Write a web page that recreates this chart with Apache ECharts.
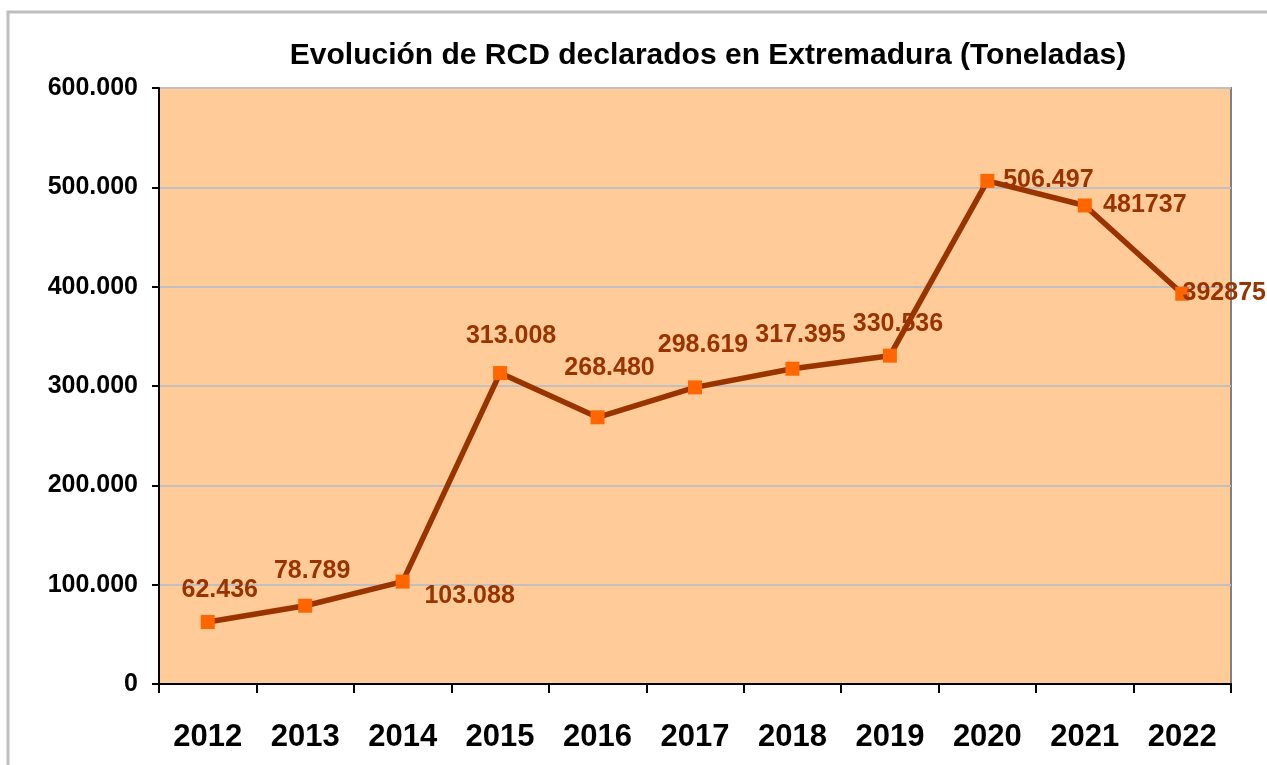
<!DOCTYPE html>
<html><head><meta charset="utf-8">
<script src="https://cdn.jsdelivr.net/npm/echarts@6/dist/echarts.min.js"></script>
<style>html,body{margin:0;padding:0;background:#fff}#c{width:1267px;height:765px}</style>
</head><body><div id="c"></div>
<script>
const categories = ['2012','2013','2014','2015','2016','2017','2018','2019','2020','2021','2022'];
const values = [62436, 78789, 103088, 313008, 268480, 298619, 317395, 330536, 506497, 481737, 392875];
const valueLabels = ['62.436','78.789','103.088','313.008','268.480','298.619','317.395','330.536','506.497','481737','392875'];
const labelOffsets = [[12,-32],[7,-35],[67,15],[11,-37],[12,-49],[8,-42],[8,-34],[8,-32],[61,-1],[60,0],[42,-1]];

const FONT = 'Liberation Sans, Arial, sans-serif';
const chart = echarts.init(document.getElementById('c'));
function fmt(v){ return v === 0 ? '0' : String(v).replace(/\B(?=(\d{3})+(?!\d))/g, '.'); }

chart.setOption({
  animation: false,
  title: {
    text: 'Evolución de RCD declarados en Extremadura (Toneladas)',
    left: 703, top: 36, textAlign: 'center',
    textStyle: { fontFamily: FONT, fontWeight: 'bold', fontSize: 30, color: '#000' }
  },
  graphic: [
    { type: 'rect', shape: { x: 8, y: 12, width: 1300, height: 800 },
      style: { fill: 'none', stroke: '#BEBEBE', lineWidth: 3 }, silent: true, z: -10 }
  ],
  grid: { left: 159, right: 36, top: 88, bottom: 81, show: true,
          backgroundColor: '#FFCC99', borderColor: '#808080', borderWidth: 2 },
  xAxis: {
    type: 'category', data: categories, boundaryGap: true,
    axisLine: { lineStyle: { color: '#000', width: 2 } },
    axisTick: { show: true, length: 9, lineStyle: { color: '#000', width: 2 }, alignWithLabel: false },
    axisLabel: { margin: 38, fontFamily: FONT, fontWeight: 'bold', fontSize: 31, color: '#000' },
    splitLine: { show: false }
  },
  yAxis: {
    type: 'value', min: 0, max: 600000, interval: 100000,
    axisLine: { show: true, lineStyle: { color: '#000', width: 2 } },
    axisTick: { show: true, length: 7, lineStyle: { color: '#000', width: 2 } },
    axisLabel: { margin: 21, formatter: fmt, fontFamily: FONT, fontWeight: 'bold', fontSize: 25, color: '#000' },
    splitLine: { show: true, lineStyle: { color: '#C0C0C0', width: 2 } }
  },
  series: [{
    type: 'line', data: values.map((v, i) => ({
      value: v,
      label: { offset: labelOffsets[i] }
    })),
    lineStyle: { color: '#993300', width: 5.5 },
    itemStyle: { color: '#FF6600' },
    symbol: 'rect', symbolSize: 14,
    label: {
      show: true, position: 'inside',
      formatter: p => valueLabels[p.dataIndex],
      fontFamily: FONT, fontWeight: 'bold', fontSize: 25, color: '#993300'
    },
    z: 5
  }]
});
</script></body></html>
